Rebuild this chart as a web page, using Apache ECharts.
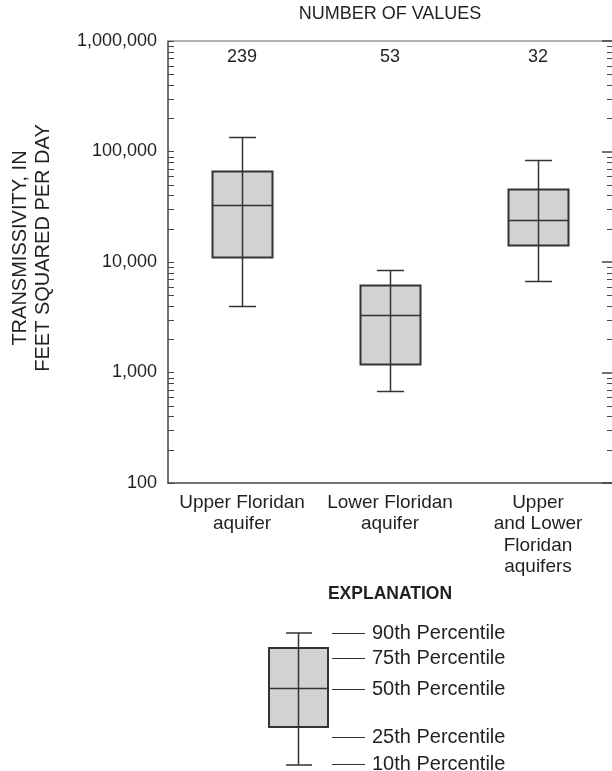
<!DOCTYPE html>
<html>
<head>
<meta charset="utf-8">
<script src="https://cdn.jsdelivr.net/npm/echarts@6/dist/echarts.min.js"></script>
<style>html,body{margin:0;padding:0;background:#fff}#c{width:612px;height:771px}</style>
</head>
<body>
<div id="c"></div>
<script>
const categories = ['Upper Floridan\naquifer', 'Lower Floridan\naquifer', 'Upper\nand Lower\nFloridan\naquifers'];
const counts = [239, 53, 32];
const p10 = [4000, 680, 6700];
const p25 = [11100, 1200, 14200];
const p50 = [32600, 3300, 24100];
const p75 = [66500, 6200, 45500];
const p90 = [136000, 8500, 84000];
const minorTickValues = [200,300,400,500,600,700,800,900,
  2000,3000,4000,5000,6000,7000,8000,9000,
  20000,30000,40000,50000,60000,70000,80000,90000,
  200000,300000,400000,500000,600000,700000,800000,900000];
const legendLabels = ['90th Percentile','75th Percentile','50th Percentile','25th Percentile','10th Percentile'];

const FONT = 'Liberation Sans, Arial, Helvetica, sans-serif';
const TXT = '#231f20';
const BOXFILL = '#d1d2d4';
const STROKE = '#333333';

const boxData = categories.map((c, i) => [i, p10[i], p25[i], p50[i], p75[i], p90[i]]);
const tickData = minorTickValues.map(v => [0, v]);

const chart = echarts.init(document.getElementById('c'), null, {renderer: 'canvas'});

function fmt(v) { return Number(v).toLocaleString('en-US'); }

const option = {
  backgroundColor: '#fff',
  animation: false,
  grid: {left: 168, right: 0, top: 41, bottom: 288, containLabel: false},
  xAxis: [
    {
      type: 'category', data: categories, position: 'bottom',
      axisLine: {show: true, lineStyle: {color: '#444', width: 1.5}},
      axisTick: {show: false},
      axisLabel: {interval: 0, hideOverlap: false, fontFamily: FONT, fontSize: 19, color: TXT, lineHeight: 21.5, margin: 9}
    },
    {
      type: 'category', data: counts.map(String), position: 'top',
      axisLine: {show: true, lineStyle: {color: '#999', width: 1.5}},
      axisTick: {show: false},
      axisLabel: {interval: 0, inside: true, fontFamily: FONT, fontSize: 18, color: TXT, margin: 7},
      name: 'NUMBER OF VALUES', nameLocation: 'middle', nameGap: 18,
      nameTextStyle: {fontFamily: FONT, fontSize: 18, color: TXT}
    }
  ],
  yAxis: [
    {
      type: 'log', logBase: 10, min: 100, max: 1000000, position: 'left',
      axisLine: {show: true, lineStyle: {color: '#444', width: 1.5}},
      axisTick: {show: true, inside: true, length: 6, lineStyle: {color: '#444'}},
      splitLine: {show: false},
      axisLabel: {fontFamily: FONT, fontSize: 18, color: TXT, margin: 11, formatter: fmt}
    },
    {
      type: 'log', logBase: 10, min: 100, max: 1000000, position: 'right',
      axisLine: {show: false},
      axisTick: {show: true, inside: true, length: 10, lineStyle: {color: '#444', width: 1.5}},
      splitLine: {show: false},
      axisLabel: {show: false}
    }
  ],
  graphic: [
    {type: 'text', x: 32, y: 248, rotation: Math.PI / 2,
      style: {text: 'TRANSMISSIVITY, IN\nFEET SQUARED PER DAY', font: '20px ' + FONT, fill: TXT,
        align: 'center', verticalAlign: 'middle', lineHeight: 23}},
    {type: 'text', x: 390, y: 594, style: {text: 'EXPLANATION', font: 'bold 17.5px ' + FONT, fill: TXT, align: 'center', verticalAlign: 'middle'}},
    {type: 'rect', shape: {x: 269, y: 648, width: 59, height: 79}, style: {fill: BOXFILL, stroke: STROKE, lineWidth: 2}},
    {type: 'line', shape: {x1: 298.5, y1: 633, x2: 298.5, y2: 765}, style: {stroke: STROKE, lineWidth: 1.5}},
    {type: 'line', shape: {x1: 269, y1: 688.5, x2: 328, y2: 688.5}, style: {stroke: STROKE, lineWidth: 1.5}},
    {type: 'line', shape: {x1: 286, y1: 633, x2: 312, y2: 633}, style: {stroke: STROKE, lineWidth: 1.5}},
    {type: 'line', shape: {x1: 286, y1: 765, x2: 312, y2: 765}, style: {stroke: STROKE, lineWidth: 1.5}},
  ].concat([633, 658, 689, 737, 764].flatMap((y, i) => [
    {type: 'line', shape: {x1: 332, y1: y + 0.5, x2: 365, y2: y + 0.5}, style: {stroke: STROKE, lineWidth: 1}},
    {type: 'text', x: 372, y: y, style: {text: legendLabels[i], font: '20px ' + FONT, fill: TXT, align: 'left', verticalAlign: 'middle'}}
  ])),
  series: [
    {
      type: 'custom', xAxisIndex: 0, yAxisIndex: 0,
      data: tickData, encode: {x: 0, y: 1}, silent: true, clip: false,
      renderItem: function (params, api) {
        const cs = params.coordSys;
        const y = Math.round(api.coord([0, api.value(1)])[1]) + 0.5;
        return {type: 'group', children: [
          {type: 'line', shape: {x1: cs.x, y1: y, x2: cs.x + 6, y2: y}, style: {stroke: '#444', lineWidth: 1}},
          {type: 'line', shape: {x1: cs.x + cs.width - 5, y1: y, x2: cs.x + cs.width, y2: y}, style: {stroke: '#444', lineWidth: 1}}
        ]};
      }
    },
    {
      type: 'custom', xAxisIndex: 0, yAxisIndex: 0,
      data: boxData, encode: {x: 0, y: [1, 2, 3, 4, 5]}, silent: true,
      renderItem: function (params, api) {
        const i = api.value(0);
        const cx = Math.round(api.coord([i, api.value(3)])[0]) + 0.5;
        const yv = [1, 2, 3, 4, 5].map(k => Math.round(api.coord([i, api.value(k)])[1]) + 0.5);
        const bw = 60, cw = 27;
        return {type: 'group', children: [
          {type: 'rect', shape: {x: cx - bw / 2, y: yv[3], width: bw, height: yv[1] - yv[3]},
            style: {fill: BOXFILL, stroke: STROKE, lineWidth: 2}},
          {type: 'line', shape: {x1: cx, y1: yv[4], x2: cx, y2: yv[0]}, style: {stroke: STROKE, lineWidth: 1.5}},
          {type: 'line', shape: {x1: cx - bw / 2, y1: yv[2], x2: cx + bw / 2, y2: yv[2]}, style: {stroke: STROKE, lineWidth: 1.5}},
          {type: 'line', shape: {x1: cx - cw / 2, y1: yv[4], x2: cx + cw / 2, y2: yv[4]}, style: {stroke: STROKE, lineWidth: 1.5}},
          {type: 'line', shape: {x1: cx - cw / 2, y1: yv[0], x2: cx + cw / 2, y2: yv[0]}, style: {stroke: STROKE, lineWidth: 1.5}}
        ]};
      }
    }
  ]
};
chart.setOption(option);
</script>
</body>
</html>
